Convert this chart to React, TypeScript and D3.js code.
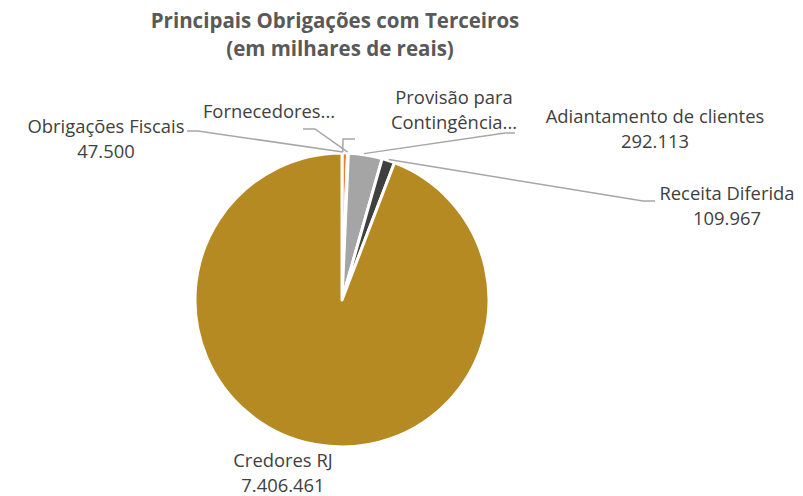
import React from "react";
import * as d3 from "d3";

const categories = [
  "Obrigações Fiscais",
  "Fornecedores",
  "Provisão para Contingência",
  "Adiantamento de clientes",
  "Receita Diferida",
  "Credores RJ",
];
const values = [47500, 4000, 3000, 292113, 109967, 7406461];
const colors = ["#ED7D31", "#FFC000", "#5B9BD5", "#A5A5A5", "#404040", "#B68A22"];
const titleLines = ["Principais Obrigações com Terceiros", "(em milhares de reais)"];

const W = 803;
const H = 496;
const cx = 342;
const cy = 300;
const R = 147;

const fmt = (v: number) => d3.format(",")(v).replace(/,/g, ".");

// label layout: lines, center x, first baseline, leader polyline (label side points), slice anchor fraction
const labelLayout = [
  { lines: ["Obrigações Fiscais", fmt(values[0])], x: 106, y: 133, leader: [[187, 131], [198, 131]], frac: 0.15 },
  { lines: ["Fornecedores..."], x: 269, y: 118, leader: [[303, 129], [315, 129]], frac: 0.1 },
  { lines: ["Provisão para", "Contingência..."], x: 454, y: 104, leader: [[355, 139], [343, 139]], frac: -1 },
  { lines: ["Adiantamento de clientes", fmt(values[3])], x: 655, y: 123, leader: [[515, 133], [505, 133]], frac: 0.45 },
  { lines: ["Receita Diferida", fmt(values[4])], x: 727, y: 200, leader: [[655, 201], [643, 201]], frac: 0.5 },
  { lines: ["Credores RJ", fmt(values[5])], x: 283, y: 467, leader: [], frac: 0.5 },
];

export default function App() {
  const pie = d3.pie<number>().sort(null).value((d) => d)(values);
  const arc = d3.arc<d3.PieArcDatum<number>>().innerRadius(0).outerRadius(R);
  const pt = (a: number, r: number): [number, number] => [cx + r * Math.sin(a), cy - r * Math.cos(a)];

  return (
    <svg width={W} height={H} style={{ position: "absolute", left: 0, top: 0 }}>
      <rect width={W} height={H} fill="#ffffff" />
      <g fontFamily="'Open Sans', sans-serif" fontWeight="bold" fill="#595959" textAnchor="middle">
        <text x={335} y={28} fontSize={20.5}>{titleLines[0]}</text>
        <text x={340} y={56} fontSize={20.5}>{titleLines[1]}</text>
      </g>
      <g transform={`translate(${cx},${cy})`}>
        {pie.map((d, i) => (
          <path key={i} d={arc(d) || ""} fill={colors[i]} stroke="#ffffff" strokeWidth={3} strokeLinejoin="round" />
        ))}
      </g>
      <g fill="none" stroke="#A6A6A6" strokeWidth={1.5}>
        {labelLayout.map((l, i) => {
          if (!l.leader.length) return null;
          const d = pie[i];
          let end: [number, number];
          if (l.frac < 0) {
            end = pt(pie[0].startAngle + 0.005, R + 1);
          } else {
            end = pt(d.startAngle + (d.endAngle - d.startAngle) * l.frac, R + 1);
          }
          const pts = [...l.leader, end] as [number, number][];
          return <polyline key={i} points={pts.map((p) => p.join(",")).join(" ")} />;
        })}
      </g>
      <g fontFamily="'Open Sans', sans-serif" fontSize={18.4} fill="#404040" textAnchor="middle">
        {labelLayout.map((l, i) => (
          <text key={i} x={l.x} y={l.y}>
            {l.lines.map((s, j) => (
              <tspan key={j} x={l.x} dy={j === 0 ? 0 : 25}>{s}</tspan>
            ))}
          </text>
        ))}
      </g>
    </svg>
  );
}
